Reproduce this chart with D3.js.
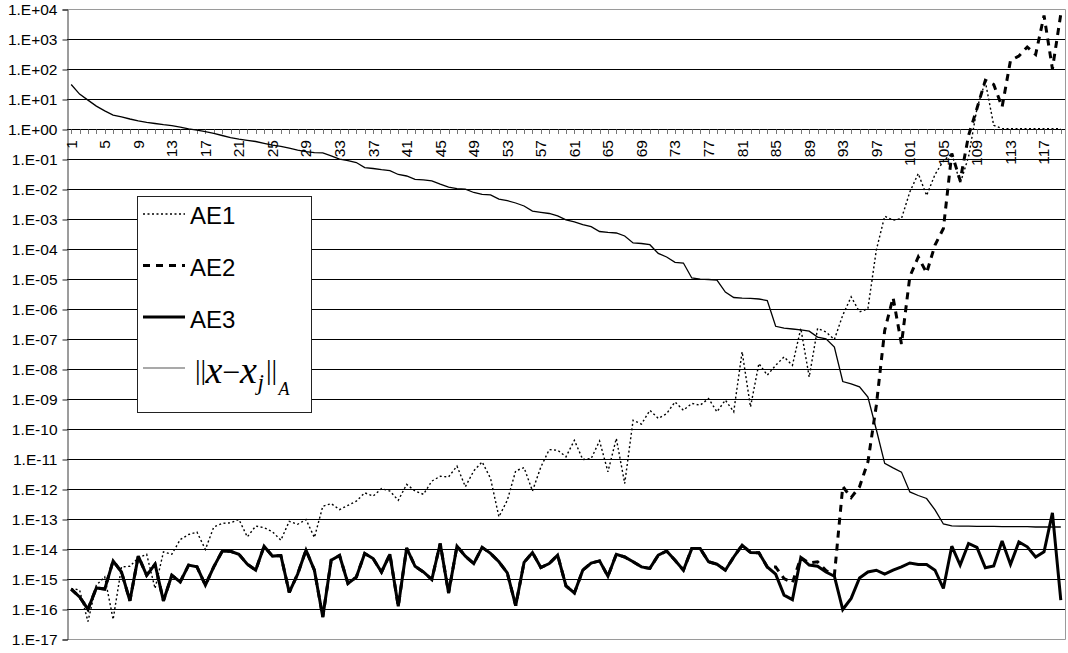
<!DOCTYPE html>
<html>
<head>
<meta charset="utf-8">
<script src="https://cdn.jsdelivr.net/npm/d3@7"></script>
<style>
  html, body { margin: 0; padding: 0; background: #fff; }
  svg { display: block; }
</style>
</head>
<body>
<svg id="chart" width="1068" height="653"></svg>
<script>
// Iteration index 1..119
const categories = d3.range(1, 120);
const xTickLabels = [1, 5, 9, 13, 17, 21, 25, 29, 33, 37, 41, 45, 49, 53, 57, 61, 65, 69, 73, 77,
  81, 85, 89, 93, 97, 101, 105, 109, 113, 117];

// Decades shown on the logarithmic axis and their labels
const yDecades = d3.range(-17, 5);
const yTickLabels = ["1.E-17", "1.E-16", "1.E-15", "1.E-14", "1.E-13", "1.E-12", "1.E-11", "1.E-10",
  "1.E-09", "1.E-08", "1.E-07", "1.E-06", "1.E-05", "1.E-04", "1.E-03", "1.E-02", "1.E-01",
  "1.E+00", "1.E+01", "1.E+02", "1.E+03", "1.E+04"];

// Series values, stored as base-10 exponents (value = 10^e)
const ae1Exp = [
  -15.30, -15.35, -16.40, -15.19, -14.91, -16.33, -14.58, -14.56, -14.28, -14.16,
  -15.30, -14.08, -14.16, -13.67, -13.50, -13.42, -14.00, -13.25, -13.13, -13.11,
  -13.00, -13.58, -13.22, -13.27, -13.41, -13.69, -13.06, -13.16, -13.00, -13.60,
  -12.56, -12.47, -12.67, -12.53, -12.39, -12.11, -12.22, -11.97, -12.05, -12.36,
  -11.83, -12.05, -12.16, -11.72, -11.56, -11.58, -11.22, -11.91, -11.38, -11.08,
  -11.63, -12.91, -12.36, -11.38, -11.27, -12.05, -11.25, -10.67, -10.69, -10.91,
  -10.36, -11.00, -10.97, -10.38, -11.41, -10.30, -11.80, -9.69, -9.82, -9.36,
  -9.63, -9.47, -9.08, -9.36, -9.13, -9.19, -8.97, -9.41, -9.02, -9.41,
  -7.41, -9.25, -7.80, -8.19, -7.86, -7.58, -7.86, -6.63, -8.25, -6.63,
  -6.75, -7.00, -6.19, -5.58, -6.08, -5.97, -4.02, -2.89, -3.02, -2.97,
  -2.08, -1.47, -2.20, -1.50, -1.05, -0.80, -1.80, -0.91, 0.70, 1.60,
  0.14, 0.03, 0.03, 0.03, 0.03, 0.03, 0.03, 0.03, 0.03
];

const ae2Exp = [
  -15.32, -15.58, -15.99, -15.28, -15.32, -14.38, -14.75, -15.71, -14.22, -14.86,
  -14.49, -15.71, -14.86, -15.08, -14.52, -14.58, -15.19, -14.58, -14.06, -14.06,
  -14.16, -14.49, -14.69, -13.89, -14.22, -14.20, -15.43, -14.82, -14.02, -14.69,
  -16.25, -14.36, -14.20, -15.13, -14.92, -14.13, -14.30, -14.75, -14.16, -15.89,
  -13.95, -14.56, -14.75, -15.00, -13.80, -15.45, -13.89, -14.22, -14.47, -13.93,
  -14.13, -14.41, -14.78, -15.87, -14.43, -14.10, -14.60, -14.47, -14.19, -15.21,
  -15.45, -14.69, -14.45, -14.38, -14.89, -14.16, -14.25, -14.41, -14.58, -14.63,
  -14.19, -14.05, -14.36, -14.69, -13.97, -13.97, -14.41, -14.49, -14.69, -14.25,
  -13.86, -14.10, -14.11, -14.58, -14.58, -14.97, -15.11, -14.27, -14.45, -14.41,
  -14.70, -14.86, -11.90, -12.27, -11.91, -11.08, -9.20, -6.70, -5.60, -7.15,
  -4.90, -4.25, -4.78, -3.85, -3.30, -0.80, -1.70, -0.20, 0.70, 1.64,
  1.50, 0.75, 2.30, 2.45, 2.75, 2.50, 3.80, 2.02, 3.85
];

const ae3Exp = [
  -15.32, -15.58, -15.99, -15.28, -15.32, -14.38, -14.75, -15.71, -14.22, -14.86,
  -14.49, -15.71, -14.86, -15.08, -14.52, -14.58, -15.19, -14.58, -14.06, -14.06,
  -14.16, -14.49, -14.69, -13.89, -14.22, -14.20, -15.43, -14.82, -14.02, -14.69,
  -16.25, -14.36, -14.20, -15.13, -14.92, -14.13, -14.30, -14.75, -14.16, -15.89,
  -13.95, -14.56, -14.75, -15.00, -13.80, -15.45, -13.89, -14.22, -14.47, -13.93,
  -14.13, -14.41, -14.78, -15.87, -14.43, -14.10, -14.60, -14.47, -14.19, -15.21,
  -15.45, -14.69, -14.45, -14.38, -14.89, -14.16, -14.25, -14.41, -14.58, -14.63,
  -14.19, -14.05, -14.36, -14.69, -13.97, -13.97, -14.41, -14.49, -14.69, -14.25,
  -13.86, -14.10, -14.11, -14.58, -14.82, -15.52, -15.67, -14.27, -14.52, -14.56,
  -14.75, -14.89, -16.00, -15.63, -14.95, -14.75, -14.69, -14.82, -14.69, -14.58,
  -14.45, -14.50, -14.50, -14.69, -15.30, -13.89, -14.52, -13.80, -13.93, -14.61,
  -14.55, -13.72, -14.50, -13.75, -13.91, -14.25, -14.08, -12.78, -15.69
];

// A-norm of the error
const errNormExp = [
  1.50, 1.18, 0.98, 0.78, 0.62, 0.48, 0.42, 0.35, 0.29, 0.24,
  0.20, 0.16, 0.13, 0.08, 0.02, -0.02, -0.07, -0.13, -0.20, -0.27,
  -0.32, -0.36, -0.40, -0.46, -0.52, -0.56, -0.62, -0.69, -0.74, -0.77,
  -0.78, -0.88, -0.99, -1.04, -1.10, -1.27, -1.30, -1.34, -1.37, -1.50,
  -1.55, -1.66, -1.68, -1.71, -1.82, -1.92, -1.97, -1.99, -2.10, -2.16,
  -2.18, -2.32, -2.37, -2.45, -2.55, -2.72, -2.76, -2.80, -2.88, -3.01,
  -3.08, -3.17, -3.24, -3.40, -3.43, -3.45, -3.55, -3.78, -3.80, -3.84,
  -4.13, -4.25, -4.43, -4.45, -4.95, -4.99, -5.00, -5.02, -5.42, -5.60,
  -5.62, -5.63, -5.65, -5.70, -6.56, -6.62, -6.65, -6.68, -6.72, -6.92,
  -6.98, -7.25, -8.40, -8.48, -8.58, -8.92, -10.00, -11.13, -11.28, -11.42,
  -12.08, -12.20, -12.30, -12.68, -13.15, -13.21, -13.22, -13.22, -13.23, -13.23,
  -13.23, -13.24, -13.24, -13.24, -13.24, -13.25, -13.25, -13.25, -13.25
];

const toValue = e => Math.pow(10, e);

const series = [
  { name: "AE1", values: ae1Exp.map(toValue), width: 1.4, dash: "2,2.5" },
  { name: "AE2", values: ae2Exp.map(toValue), width: 3, dash: "7,6" },
  { name: "AE3", values: ae3Exp.map(toValue), width: 3, dash: null },
  { name: "norm", values: errNormExp.map(toValue), width: 1.3, dash: null }
];

const svg = d3.select("#chart");
const W = 1068, H = 653;
const plot = { left: 67, right: 1065, top: 9.5, bottom: 639.5 };

svg.append("rect").attr("width", W).attr("height", H).attr("fill", "#fff");

const x = d3.scaleBand().domain(categories).range([plot.left, plot.right]).padding(0);
const cx = c => x(c) + x.bandwidth() / 2;
const y = d3.scaleLog().domain([1e-17, 1e4]).range([plot.bottom, plot.top]);

const axisFont = "'Liberation Sans', Arial, sans-serif";

// Horizontal gridlines at every decade
const gridG = svg.append("g");
gridG.selectAll("line")
  .data(yDecades.filter(d => d > -17 && d < 4))
  .join("line")
  .attr("x1", plot.left).attr("x2", plot.right)
  .attr("y1", d => y(toValue(d))).attr("y2", d => y(toValue(d)))
  .attr("stroke", "#000").attr("stroke-width", 1);

// Plot frame (top, right, bottom) in grey
svg.append("path")
  .attr("d", `M${plot.left},${plot.top}H${plot.right + 0.5}V${plot.bottom}H${plot.left}`)
  .attr("fill", "none").attr("stroke", "#9a9a9a").attr("stroke-width", 1);

// Value axis on the left
const yAxis = d3.axisLeft(y)
  .tickValues(yDecades.map(toValue))
  .tickSize(5)
  .tickPadding(5)
  .tickFormat((d, i) => yTickLabels[i]);
const yAxisG = svg.append("g").attr("transform", `translate(${plot.left + 0.5},0)`).call(yAxis);
yAxisG.select(".domain").attr("stroke", "#3a3a3a");
yAxisG.selectAll(".tick line").attr("stroke", "#222");
yAxisG.selectAll(".tick text")
  .attr("font-family", axisFont).attr("font-size", 15.5).attr("fill", "#000");

// Category axis crossing at 1.E+00, labels rotated
const y0 = y(1);
const xAxisG = svg.append("g");
xAxisG.selectAll("line.tk")
  .data(categories)
  .join("line")
  .attr("class", "tk")
  .attr("x1", d => Math.round(cx(d)) + 0.5).attr("x2", d => Math.round(cx(d)) + 0.5)
  .attr("y1", y0).attr("y2", y0 + 4.5)
  .attr("stroke", "#777").attr("stroke-width", 1);
xAxisG.selectAll("text")
  .data(xTickLabels)
  .join("text")
  .attr("transform", d => `translate(${cx(d)},${y0 + 10.5}) rotate(-90)`)
  .attr("text-anchor", "end")
  .attr("dy", "0.35em")
  .attr("font-family", axisFont).attr("font-size", 15.5).attr("fill", "#000")
  .text(d => d);

// Series lines
const line = d3.line()
  .x((d, i) => cx(categories[i]))
  .y(d => y(d));

const linesG = svg.append("g");
series.forEach(s => {
  linesG.append("path")
    .datum(s.values)
    .attr("d", line)
    .attr("fill", "none")
    .attr("stroke", "#000")
    .attr("stroke-width", s.width)
    .attr("stroke-dasharray", s.dash)
    .attr("stroke-linejoin", "miter")
    .attr("stroke-miterlimit", 3);
});

// Legend
const lg = svg.append("g");
lg.append("rect")
  .attr("x", 137.5).attr("y", 196.5).attr("width", 174).attr("height", 216)
  .attr("fill", "#fff").attr("stroke", "#222").attr("stroke-width", 1);

const legendRows = [
  { s: series[0], ly: 214, ty: 224 },
  { s: series[1], ly: 265.5, ty: 276 },
  { s: series[2], ly: 317, ty: 327.5 }
];
legendRows.forEach(r => {
  lg.append("line")
    .attr("x1", 143).attr("x2", 185).attr("y1", r.ly).attr("y2", r.ly)
    .attr("stroke", "#000").attr("stroke-width", r.s.width)
    .attr("stroke-dasharray", r.s.dash);
  lg.append("text")
    .attr("x", 190).attr("y", r.ty)
    .attr("font-family", axisFont).attr("font-size", 24).attr("fill", "#000")
    .text(r.s.name);
});

// Error-norm entry: ||x - x_j||_A
lg.append("line")
  .attr("x1", 143).attr("x2", 185).attr("y1", 368).attr("y2", 368)
  .attr("stroke", "#555").attr("stroke-width", 1.2);
const serif = "'Liberation Serif', 'Times New Roman', serif";
const normText = lg.append("text").attr("font-family", serif).attr("fill", "#000");
[
  { t: "||", x: 195, y: 379, size: 28, italic: false },
  { t: "x", x: 205.5, y: 383, size: 38, italic: true },
  { t: "\u2212", x: 222, y: 383, size: 32, italic: false },
  { t: "x", x: 240, y: 383, size: 38, italic: true },
  { t: "j", x: 257.5, y: 390, size: 23, italic: true },
  { t: "||", x: 266, y: 379, size: 28, italic: false },
  { t: "A", x: 278.5, y: 395, size: 18, italic: true }
].forEach(p => {
  normText.append("tspan")
    .attr("x", p.x).attr("y", p.y)
    .attr("font-size", p.size)
    .attr("font-style", p.italic ? "italic" : "normal")
    .text(p.t);
});
</script>
</body>
</html>
